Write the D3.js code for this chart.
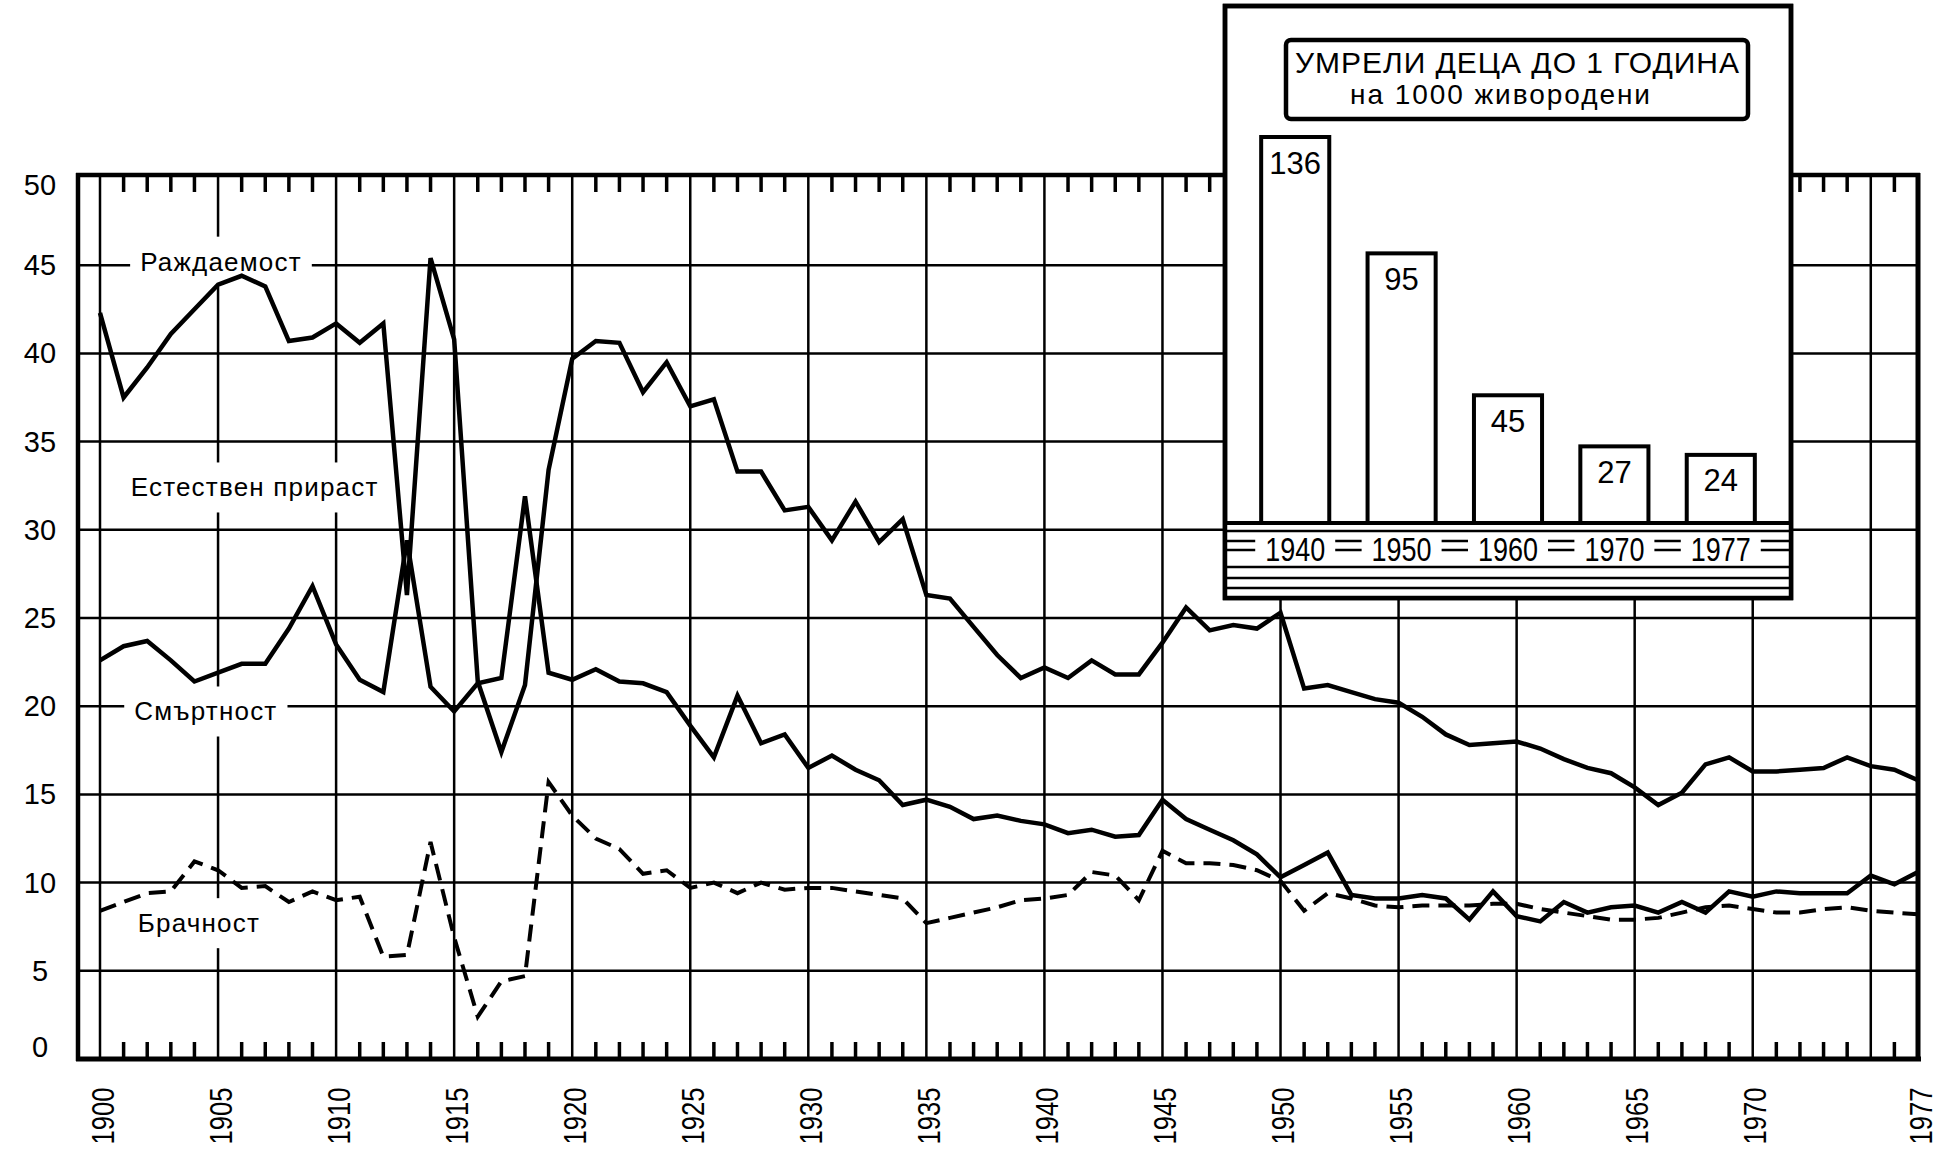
<!DOCTYPE html>
<html>
<head>
<meta charset="utf-8">
<script src="https://cdn.jsdelivr.net/npm/d3@7"></script>
<style>
  body { margin: 0; background: #fff; }
  text { font-family: "Liberation Sans", Arial, sans-serif; fill: #000; }
</style>
</head>
<body>
<svg id="chart" width="1954" height="1157"></svg>
<script>
// years on the x axis
var firstYear = 1900, lastYear = 1977;
var years = d3.range(firstYear, lastYear + 1);

// per 1000 inhabitants
var birthRate = [42.3, 37.5, 39.2, 41.1, 42.5, 43.9, 44.4, 43.8, 40.7, 40.9,
                 41.7, 40.6, 41.7, 26.3, 45.4, 40.8, 21.4, 17.4, 21.2, 33.4,
                 39.7, 40.7, 40.6, 37.8, 39.5, 37.0, 37.4, 33.3, 33.3, 31.1,
                 31.3, 29.4, 31.6, 29.3, 30.6, 26.3, 26.1, 24.5, 22.9, 21.6,
                 22.2, 21.6, 22.6, 21.8, 21.8, 23.6, 25.6, 24.3, 24.6, 24.4,
                 25.3, 21.0, 21.2, 20.8, 20.4, 20.2, 19.4, 18.4, 17.8, 17.9,
                 18.0, 17.6, 17.0, 16.5, 16.2, 15.4, 14.4, 15.1, 16.7, 17.1,
                 16.3, 16.3, 16.4, 16.5, 17.1, 16.6, 16.4, 15.8];
var deathRate = [22.6, 23.4, 23.7, 22.6, 21.4, 21.9, 22.4, 22.4, 24.4, 26.8,
                 23.5, 21.5, 20.8, 29.4, 21.1, 19.7, 21.3, 21.6, 31.9, 21.9,
                 21.5, 22.1, 21.4, 21.3, 20.8, 18.9, 17.1, 20.6, 17.9, 18.4,
                 16.5, 17.2, 16.4, 15.8, 14.4, 14.7, 14.3, 13.6, 13.8, 13.5,
                 13.3, 12.8, 13.0, 12.6, 12.7, 14.7, 13.6, 13.0, 12.4, 11.6,
                 10.3, 11.0, 11.7, 9.3, 9.1, 9.1, 9.3, 9.1, 7.9, 9.5,
                 8.1, 7.8, 8.9, 8.3, 8.6, 8.7, 8.3, 8.9, 8.3, 9.5,
                 9.2, 9.5, 9.4, 9.4, 9.4, 10.4, 9.9, 10.6];
var marriageRate = [8.4, 8.9, 9.4, 9.5, 11.2, 10.7, 9.7, 9.8, 8.9, 9.5,
                    9.0, 9.2, 5.8, 5.9, 12.3, 6.9, 2.4, 4.4, 4.7, 15.7,
                    13.8, 12.5, 11.9, 10.5, 10.7, 9.7, 10.0, 9.4, 10.0, 9.6,
                    9.7, 9.7, 9.5, 9.3, 9.1, 7.7, 8.0, 8.3, 8.6, 9.0,
                    9.1, 9.3, 10.6, 10.4, 9.0, 11.8, 11.1, 11.1, 11.0, 10.7,
                    10.1, 8.4, 9.4, 9.1, 8.7, 8.6, 8.7, 8.7, 8.7, 8.8,
                    8.8, 8.5, 8.3, 8.1, 7.9, 7.9, 8.0, 8.3, 8.6, 8.7,
                    8.5, 8.3, 8.3, 8.5, 8.6, 8.4, 8.3, 8.2];

var yTicks = [0, 5, 10, 15, 20, 25, 30, 35, 40, 45, 50];
var xTickLabels = [1900, 1905, 1910, 1915, 1920, 1925, 1930, 1935, 1940, 1945,
                   1950, 1955, 1960, 1965, 1970, 1977];

// series names, written inside the plot (start year, centre value)
var labelNames = ["Раждаемост", "Естествен прираст", "Смъртност", "Брачност"];
var labelYears = [1901.7, 1901.3, 1901.45, 1901.6];
var labelValues = [45.2, 32.4, 19.7, 7.7];

// inset: infant deaths under 1 year per 1000 live births
var infantYears = ["1940", "1950", "1960", "1970", "1977"];
var infantDeaths = [136, 95, 45, 27, 24];
var insetTitle = "УМРЕЛИ ДЕЦА ДО 1 ГОДИНА";
var insetSubtitle = "на 1000 живородени";

var svg = d3.select("#chart");
svg.append("rect").attr("width", 1954).attr("height", 1157).attr("fill", "#fff");

var x = d3.scaleLinear().domain([firstYear, lastYear]).range([100, 1918]);
var y = d3.scaleLinear().domain([0, 50]).range([1059, 177]);

var frameLeft = 78, frameRight = x(lastYear), frameTop = y(50) - 2, frameBottom = y(0);

// grid
var grid = svg.append("g").attr("stroke", "#000").attr("stroke-width", 2.5);
grid.selectAll("line.h")
    .data(yTicks.filter(function(d) { return d > 0 && d < 50; }))
    .join("line").attr("class", "h")
    .attr("x1", frameLeft).attr("x2", frameRight)
    .attr("y1", function(d) { return y(d); }).attr("y2", function(d) { return y(d); });
grid.selectAll("line.v")
    .data(years.filter(function(d) { return d % 5 === 0; }))
    .join("line").attr("class", "v")
    .attr("x1", function(d) { return x(d); }).attr("x2", function(d) { return x(d); })
    .attr("y1", frameTop).attr("y2", frameBottom);

// year ticks, top and bottom
var tickYears = years.filter(function(d) { return d % 5 !== 0 && d !== lastYear; });
var ticks = svg.append("g").attr("stroke", "#000").attr("stroke-width", 3.5);
ticks.selectAll("line.t").data(tickYears).join("line").attr("class", "t")
    .attr("x1", function(d) { return x(d); }).attr("x2", function(d) { return x(d); })
    .attr("y1", frameTop).attr("y2", frameTop + 17);
ticks.selectAll("line.b").data(tickYears).join("line").attr("class", "b")
    .attr("x1", function(d) { return x(d); }).attr("x2", function(d) { return x(d); })
    .attr("y1", frameBottom - 17).attr("y2", frameBottom);

// series labels with white backing
var labels = svg.append("g");
labelNames.forEach(function(name, i) {
  var g = labels.append("g");
  var bg = g.append("rect").attr("fill", "#fff");
  var t = g.append("text")
      .attr("x", x(labelYears[i]))
      .attr("y", y(labelValues[i]))
      .attr("dominant-baseline", "central")
      .attr("font-size", 26)
      .attr("letter-spacing", 1.2)
      .text(name);
  var b = t.node().getBBox();
  bg.attr("x", b.x - 10).attr("y", b.y - 10)
    .attr("width", b.width + 20).attr("height", b.height + 20);
});

// series lines
var line = d3.line()
    .x(function(d, i) { return x(years[i]); })
    .y(function(d) { return y(d); });

svg.append("path").datum(birthRate)
    .attr("fill", "none").attr("stroke", "#000").attr("stroke-width", 4.5)
    .attr("d", line);
svg.append("path").datum(deathRate)
    .attr("fill", "none").attr("stroke", "#000").attr("stroke-width", 4.5)
    .attr("d", line);
svg.append("path").datum(marriageRate)
    .attr("fill", "none").attr("stroke", "#000").attr("stroke-width", 4)
    .attr("stroke-dasharray", "17,9")
    .attr("d", line);

// frame
var frame = svg.append("g").attr("stroke", "#000");
frame.append("line").attr("x1", frameLeft).attr("x2", frameLeft)
    .attr("y1", frameTop - 2).attr("y2", frameBottom + 2).attr("stroke-width", 4.5);
frame.append("line").attr("x1", frameLeft - 2).attr("x2", frameRight + 3)
    .attr("y1", frameBottom).attr("y2", frameBottom).attr("stroke-width", 5);
frame.append("line").attr("x1", frameRight).attr("x2", frameRight)
    .attr("y1", frameTop - 2).attr("y2", frameBottom + 2).attr("stroke-width", 5);
frame.append("line").attr("x1", frameLeft - 2).attr("x2", frameRight + 2)
    .attr("y1", frameTop).attr("y2", frameTop).attr("stroke-width", 4.5);

// y axis labels
svg.append("g").selectAll("text").data(yTicks).join("text")
    .attr("x", 40)
    .attr("y", function(d) { return y(d) + (d === 50 ? 8 : d === 0 ? -12 : 0); })
    .attr("text-anchor", "middle")
    .attr("dominant-baseline", "central")
    .attr("font-size", 29)
    .text(function(d) { return d; });

// x axis labels, rotated
svg.append("g").selectAll("text").data(xTickLabels).join("text")
    .attr("transform", function(d) { return "translate(" + (x(d) + 3) + ",1116) rotate(-90)"; })
    .attr("text-anchor", "middle")
    .attr("dominant-baseline", "central")
    .attr("font-size", 31)
    .attr("textLength", 57).attr("lengthAdjust", "spacingAndGlyphs")
    .text(function(d) { return d; });

// ---- inset ----
var insetLeft = 1225, insetRight = 1791, insetTop = 6, insetBottom = 598;
var inset = svg.append("g");
inset.append("rect")
    .attr("x", insetLeft).attr("y", insetTop)
    .attr("width", insetRight - insetLeft).attr("height", insetBottom - insetTop)
    .attr("fill", "#fff").attr("stroke", "#000").attr("stroke-width", 4.5);

inset.append("rect")
    .attr("x", 1286).attr("y", 40).attr("width", 462).attr("height", 79).attr("rx", 5)
    .attr("fill", "#fff").attr("stroke", "#000").attr("stroke-width", 4.5);
inset.append("text")
    .attr("x", 1517).attr("y", 62)
    .attr("text-anchor", "middle").attr("dominant-baseline", "central")
    .attr("font-size", 30).attr("textLength", 444).attr("lengthAdjust", "spacing")
    .text(insetTitle);
inset.append("text")
    .attr("x", 1500).attr("y", 94)
    .attr("text-anchor", "middle").attr("dominant-baseline", "central")
    .attr("font-size", 28).attr("textLength", 300).attr("lengthAdjust", "spacing")
    .text(insetSubtitle);

var xb = d3.scaleBand().domain(infantYears).range([insetLeft, insetRight])
    .paddingInner(0.36).paddingOuter(0.34);
var yb = d3.scaleLinear().domain([0, 136]).range([523, 137]);
var base = yb(0);

inset.selectAll("rect.bar").data(infantDeaths).join("rect").attr("class", "bar")
    .attr("x", function(d, i) { return xb(infantYears[i]); })
    .attr("width", xb.bandwidth())
    .attr("y", function(d) { return yb(d); })
    .attr("height", function(d) { return base - yb(d); })
    .attr("fill", "#fff").attr("stroke", "#000").attr("stroke-width", 4);

inset.selectAll("text.val").data(infantDeaths).join("text").attr("class", "val")
    .attr("x", function(d, i) { return xb(infantYears[i]) + xb.bandwidth() / 2; })
    .attr("y", function(d) { return yb(d) + 26; })
    .attr("text-anchor", "middle").attr("dominant-baseline", "central")
    .attr("font-size", 31)
    .text(function(d) { return d; });

// striped base under the bars
var stripe = [0, 8, 18, 27, 44, 55, 65];
inset.append("rect").attr("x", insetLeft).attr("y", base)
    .attr("width", insetRight - insetLeft).attr("height", insetBottom - base).attr("fill", "#fff");
inset.selectAll("line.s").data(stripe).join("line").attr("class", "s")
    .attr("x1", insetLeft).attr("x2", insetRight)
    .attr("y1", function(d) { return base + d; }).attr("y2", function(d) { return base + d; })
    .attr("stroke", "#000").attr("stroke-width", function(d) { return d === 0 ? 4 : 2.4; });
inset.selectAll("rect.lb").data(infantYears).join("rect").attr("class", "lb")
    .attr("x", function(d) { return xb(d) + xb.bandwidth() / 2 - 40; })
    .attr("y", base + 12).attr("width", 80).attr("height", 25)
    .attr("fill", "#fff");
inset.selectAll("text.yr").data(infantYears).join("text").attr("class", "yr")
    .attr("x", function(d) { return xb(d) + xb.bandwidth() / 2; })
    .attr("y", base + 26)
    .attr("text-anchor", "middle").attr("dominant-baseline", "central")
    .attr("font-size", 33).attr("textLength", 60).attr("lengthAdjust", "spacingAndGlyphs")
    .text(function(d) { return d; });
// redraw outer border on top of the stripe
inset.append("rect")
    .attr("x", insetLeft).attr("y", insetTop)
    .attr("width", insetRight - insetLeft).attr("height", insetBottom - insetTop)
    .attr("fill", "none").attr("stroke", "#000").attr("stroke-width", 4.5);
</script>
</body>
</html>
